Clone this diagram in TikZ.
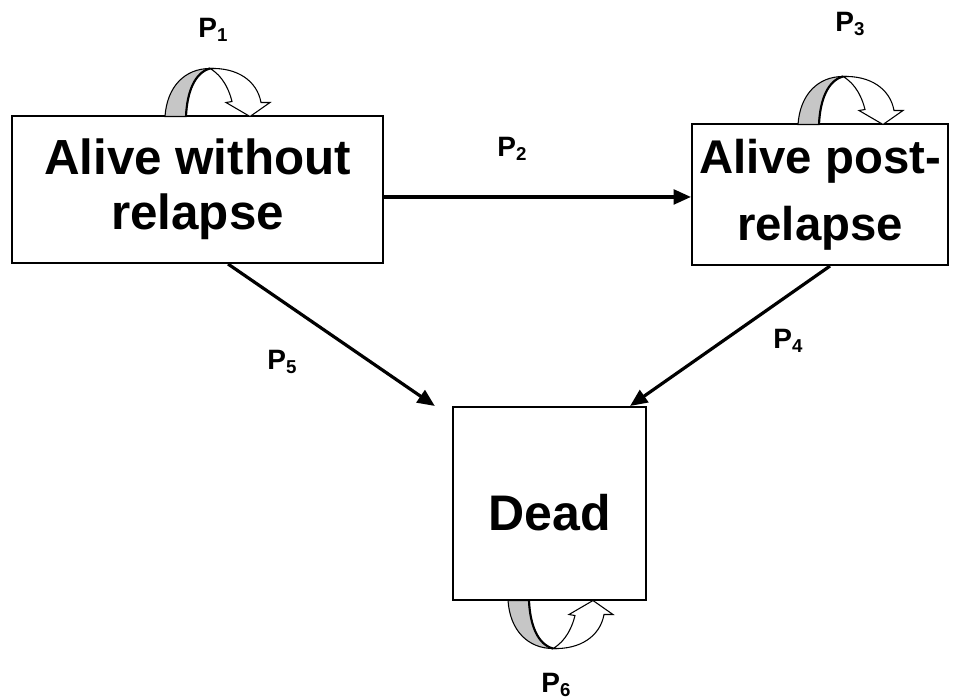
\documentclass[tikz,border=0pt]{standalone}
\usepackage{fontspec}
\setmainfont{Liberation Sans}
\usetikzlibrary{arrows.meta}

% probability label with a lowered index
\newcommand\plab[1]{P\raisebox{-2.5pt}{\fontsize{14pt}{14pt}\selectfont #1}}

\tikzset{
  state/.style={draw, line width=1.5pt, fill=white, align=center, inner sep=0pt,
    font=\fontsize{37pt}{41.25pt}\selectfont\bfseries},
  trans/.style={line width=2.4pt, -{Triangle[length=13pt,width=11pt]}},
  prob/.style={font=\fontsize{21pt}{21pt}\selectfont\bfseries, inner sep=0pt},
  % self-transition: grey ribbon rising from the box edge, turning into a white arrow
  pics/selfloop/.style={code={
    \filldraw[fill=gray!45, draw=black, line width=0.8pt]
      (0,0) .. controls (2,30) and (20,48) .. (45,48)
            .. controls (30,44) and (22,25) .. (21,0) -- cycle;
    \filldraw[fill=white, draw=black, line width=0.8pt]
      (45,48) .. controls (72,49) and (92,36) .. (96,14)
      -- (105,14) -- (85,0) -- (61,14) -- (67,15)
      .. controls (62,35) and (52,44) .. (45,48) -- cycle;
    \draw[line width=1.6pt] (21,0) .. controls (22,25) and (30,44) .. (45,48);
  }}
}

\begin{document}
\begin{tikzpicture}[x=0.75pt, y=-0.75pt]
  \useasboundingbox (0,0) rectangle (962,699);

  % states
  \node[state, minimum width=278.25pt, minimum height=110.25pt]
    (a) at (197.5,189.5) {Alive without\\relapse};
  \node[state, minimum width=192pt, minimum height=105.75pt,
        font=\fontsize{35.5pt}{41.25pt}\selectfont\bfseries]
    (b) at (820,194.5) {Alive post-\\[9pt]relapse};
  \node[state, minimum width=144.75pt, minimum height=144.75pt,
        font=\fontsize{37.5pt}{41pt}\selectfont\bfseries,
        text height=41.2pt, text depth=0pt]
    (d) at (549.5,503.5) {Dead};

  % self transitions
  \pic[yscale=-1] at (165,116.5) {selfloop};
  \pic[yscale=-1] at (798,124.5) {selfloop};
  \pic at (508,600.5) {selfloop};

  % transitions between states
  \draw[trans] ([yshift=-5.6pt]a.east) coordinate (p2s) -- (p2s -| b.west);
  \draw[trans] ([xshift=22.9pt]a.south) -- ([xshift=-86pt]d.north);
  \draw[trans] ([xshift=7.5pt]b.south) -- ([xshift=60.4pt]d.north);

  % transition probabilities
  \node[prob] (l1) at (213,30)  {\plab{1}};
  \node[prob] (l2) at (512,149) {\plab{2}};
  \node[prob] (l3) at (850,24)  {\plab{3}};
  \node[prob] (l4) at (788,341) {\plab{4}};
  \node[prob] (l5) at (282,362) {\plab{5}};
  \node[prob] (l6) at (556,685) {\plab{6}};
\end{tikzpicture}
\end{document}
